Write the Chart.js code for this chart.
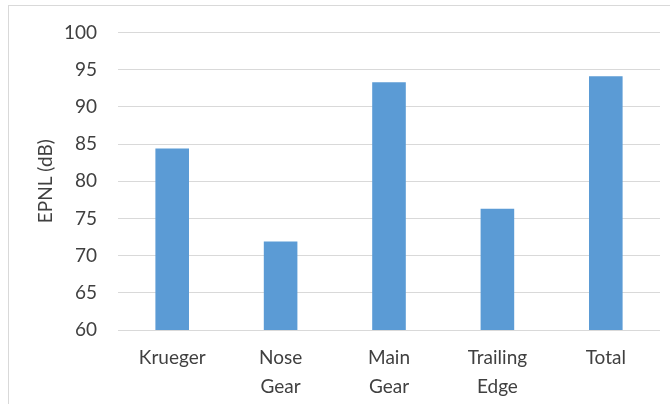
<!DOCTYPE html>
<html>
<head>
<meta charset="utf-8">
<script src="https://cdn.jsdelivr.net/npm/chart.js@4"></script>
<style>
  html, body { margin: 0; padding: 0; background: #fff; }
  body { width: 670px; height: 404px; position: relative; overflow: hidden; }
  #frame {
    position: absolute; left: 8px; top: 5px; right: 0; bottom: 0;
    border-left: 1px solid #d9d9d9; border-top: 1px solid #d9d9d9;
  }
  #wrap { position: absolute; left: 0; top: 0; width: 670px; height: 404px; }
</style>
</head>
<body>
<div id="frame"></div>
<div id="wrap"><canvas id="epnlChart"></canvas></div>
<script>
const categories = [["Krueger"], ["Nose", "Gear"], ["Main", "Gear"], ["Trailing", "Edge"], ["Total"]];
const epnlValues = [84.4, 71.9, 93.3, 76.3, 94.1];
const yMin = 60;
const yMax = 100;
const yStep = 5;

Chart.defaults.font.family = "Lato, 'Open Sans', sans-serif";
Chart.defaults.color = "#404040";

new Chart(document.getElementById("epnlChart"), {
  type: "bar",
  data: {
    labels: categories,
    datasets: [{
      label: "EPNL",
      data: epnlValues,
      backgroundColor: "#5b9bd5",
      categoryPercentage: 1,
      barPercentage: 0.31
    }]
  },
  options: {
    responsive: true,
    maintainAspectRatio: false,
    animation: false,
    layout: { padding: { left: 0, top: 27, right: 10, bottom: 0 } },
    plugins: {
      legend: { display: false },
      tooltip: { enabled: false }
    },
    scales: {
      x: {
        grid: { display: false, drawTicks: false },
        border: { display: false },
        ticks: {
          font: { size: 19, lineHeight: 1.5 },
          padding: 14,
          maxRotation: 0,
          autoSkip: false
        },
        afterFit: (scale) => { scale.height = 74; }
      },
      y: {
        min: yMin,
        max: yMax,
        grid: { color: "#d9d9d9", lineWidth: 1, drawTicks: false },
        border: { display: false },
        ticks: {
          stepSize: yStep,
          font: { size: 19 },
          padding: 21
        },
        title: {
          display: true,
          text: "EPNL (dB)",
          font: { size: 19 },
          padding: { top: 34, bottom: 0 }
        },
        afterFit: (scale) => { scale.width = 118; }
      }
    }
  }
});
</script>
</body>
</html>
